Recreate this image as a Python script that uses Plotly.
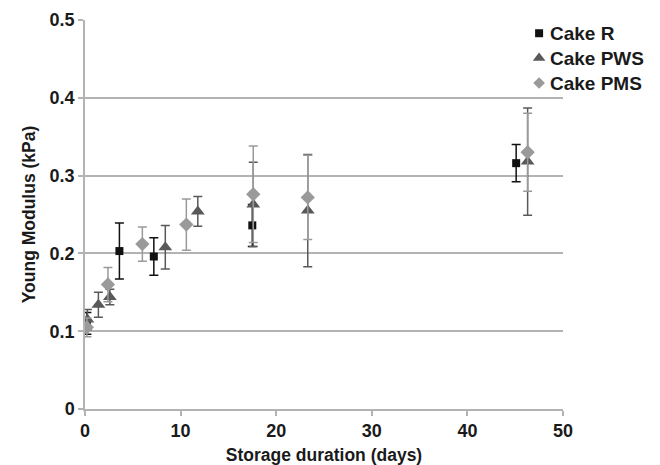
import plotly.graph_objects as go

# Values (x as read against the drawn axis)
r_x = [0.2, 3.6, 7.2, 17.5, 45.1]
r_y = [0.110, 0.203, 0.196, 0.236, 0.316]
r_err = [0.014, 0.036, 0.024, 0.027, 0.024]

pws_x = [0.25, 1.4, 2.6, 8.4, 11.8, 17.6, 23.3, 46.3]
pws_y = [0.115, 0.134, 0.144, 0.208, 0.254, 0.263, 0.255, 0.318]
pws_err = [0.013, 0.016, 0.010, 0.028, 0.019, 0.054, 0.072, 0.069]

pms_x = [0.2, 2.4, 6.0, 10.6, 17.6, 23.3, 46.3]
pms_y = [0.105, 0.160, 0.212, 0.237, 0.276, 0.272, 0.330]
pms_err = [0.012, 0.022, 0.022, 0.033, 0.062, 0.054, 0.050]

x_ticks = [0, 10, 20, 30, 40, 50]
y_ticks = [0, 0.1, 0.2, 0.3, 0.4, 0.5]
y_tick_labels = ["0", "0.1", "0.2", "0.3", "0.4", "0.5"]

series_names = ["Cake R", "Cake PWS", "Cake PMS"]
series_colors = ["#111111", "#595959", "#9a9a9a"]
series_symbols = ["square", "triangle-up", "diamond"]
series_sizes = [8, 12, 11]
legend_sizes = [8, 11, 9]

FONT = "Liberation Sans, Arial, Helvetica, sans-serif"
TXT = "#1a1a1a"
GRID = "#b3b3b3"

fig = go.Figure()

data = [(r_x, r_y, r_err), (pws_x, pws_y, pws_err), (pms_x, pms_y, pms_err)]
for (xs, ys, errs), name, color, sym, size in zip(
        data, series_names, series_colors, series_symbols, series_sizes):
    fig.add_trace(go.Scatter(
        x=xs, y=ys, name=name, mode="markers", showlegend=False,
        marker=dict(symbol=sym, size=size, color=color, line=dict(width=0)),
        error_y=dict(type="data", array=errs, visible=True, color=color,
                     thickness=1.5, width=4.5),
    ))

# Custom legend (marker swatches on an overlay axis in plot-fraction units)
leg_x_marker = 0.950
leg_x_text = 0.968
leg_y = [0.966, 0.902, 0.838]
for name, color, sym, lsize, yy in zip(series_names, series_colors,
                                       series_symbols, legend_sizes, leg_y):
    fig.add_trace(go.Scatter(
        x=[leg_x_marker], y=[yy], mode="markers", showlegend=False,
        xaxis="x2", yaxis="y2", hoverinfo="skip", cliponaxis=False,
        marker=dict(symbol=sym, size=lsize, color=color, line=dict(width=0)),
    ))
    fig.add_annotation(
        x=leg_x_text, y=yy, xref="x2", yref="y2", xanchor="left",
        yanchor="middle", showarrow=False, text="<b>" + name + "</b>",
        font=dict(family=FONT, size=19, color=TXT),
    )

# page body has an 8px default margin, so the figure is sized/offset for it
fig.update_layout(
    width=652, height=457,
    margin=dict(l=77, r=97, t=12, b=56, autoexpand=False),
    plot_bgcolor="white", paper_bgcolor="white",
    font=dict(family=FONT, size=18, color=TXT),
    showlegend=False,
    xaxis=dict(
        range=[0, 50], tickvals=x_ticks,
        ticktext=["<b>%d</b>" % v for v in x_ticks],
        showgrid=False, zeroline=False, automargin=False,
        showline=True, linecolor=GRID, linewidth=1.5,
        ticks="outside", ticklen=5, tickcolor=GRID, tickwidth=1.5,
        tickfont=dict(family=FONT, size=18, color=TXT),
        title=dict(text="<b>Storage duration (days)</b>", standoff=9,
                   font=dict(family=FONT, size=17.5, color=TXT)),
    ),
    yaxis=dict(
        range=[0, 0.5], tickvals=y_ticks,
        ticktext=["<b>%s</b>" % t for t in y_tick_labels],
        showgrid=True, gridcolor=GRID, gridwidth=1.5,
        zeroline=False, automargin=False,
        showline=True, linecolor=GRID, linewidth=1.5,
        ticks="outside", ticklen=5, tickcolor=GRID, tickwidth=1.5,
        tickfont=dict(family=FONT, size=18, color=TXT),
        title=dict(text="<b>Young Modulus (kPa)</b>", standoff=9,
                   font=dict(family=FONT, size=17.5, color=TXT)),
    ),
    xaxis2=dict(overlaying="x", range=[0, 1], visible=False, fixedrange=True),
    yaxis2=dict(overlaying="y", range=[0, 1], visible=False, fixedrange=True),
)

fig.write_html("out.html")
